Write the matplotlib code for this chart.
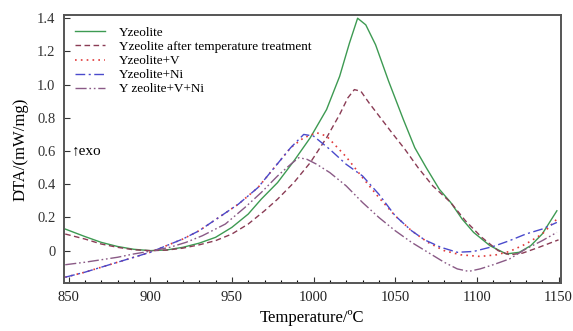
import numpy as np
import matplotlib.pyplot as plt
from matplotlib.ticker import MultipleLocator, FixedLocator

plt.rcParams['font.family'] = ['Liberation Serif', 'DejaVu Serif']

# Yzeolite (solid green)
t_y = [848, 860, 870, 880, 890, 900, 910, 920, 930, 940, 950, 960, 968, 978, 988,
       998, 1008, 1016, 1022, 1027, 1032, 1038, 1046, 1055, 1062, 1069, 1077,
       1084, 1091, 1098, 1108, 1118, 1126, 1133, 1140, 1149]
v_y = [0.13, 0.085, 0.05, 0.025, 0.008, 0.0, 0.004, 0.02, 0.045, 0.08, 0.14, 0.22,
       0.31, 0.41, 0.54, 0.68, 0.85, 1.05, 1.25, 1.40, 1.36, 1.24, 1.02, 0.79,
       0.62, 0.50, 0.37, 0.29, 0.19, 0.11, 0.03, -0.02, -0.01, 0.03, 0.10, 0.24]

# Yzeolite after temperature treatment (dashed maroon)
t_t = [848, 860, 870, 880, 890, 900, 910, 920, 930, 940, 950, 960, 970, 978, 988,
       998, 1008, 1016, 1021, 1025, 1029, 1034, 1041, 1048, 1056, 1064, 1073,
       1084, 1093, 1103, 1113, 1120, 1128, 1138, 1150]
v_t = [0.10, 0.07, 0.04, 0.02, 0.005, 0.0, 0.003, 0.015, 0.035, 0.06, 0.10, 0.16,
       0.24, 0.31, 0.41, 0.53, 0.68, 0.82, 0.92, 0.97, 0.96, 0.89, 0.80, 0.71,
       0.61, 0.50, 0.39, 0.29, 0.18, 0.08, 0.0, -0.025, -0.015, 0.02, 0.065]

# Yzeolite+V (dotted red)
t_v = [848, 860, 870, 880, 890, 900, 910, 920, 930, 942, 954, 966, 976, 986, 994,
       1002, 1008, 1020, 1030, 1040, 1050, 1060, 1070, 1080, 1090, 1102, 1112,
       1120, 1130, 1140, 1150]
v_v = [-0.16, -0.13, -0.10, -0.07, -0.04, -0.01, 0.03, 0.07, 0.12, 0.20, 0.28,
       0.38, 0.50, 0.62, 0.68, 0.71, 0.69, 0.565, 0.44, 0.32, 0.21, 0.12, 0.05,
       0.0, -0.025, -0.035, -0.025, -0.005, 0.04, 0.10, 0.20]

# Yzeolite+Ni (dash-dot blue)
t_n = [848, 860, 870, 880, 890, 900, 910, 920, 930, 942, 954, 966, 976, 986, 994,
       1000, 1010, 1020, 1030, 1040, 1050, 1060, 1068, 1078, 1088, 1098, 1110,
       1120, 1130, 1140, 1149]
v_n = [-0.16, -0.13, -0.10, -0.07, -0.04, -0.01, 0.03, 0.07, 0.12, 0.20, 0.28,
       0.38, 0.50, 0.62, 0.70, 0.69, 0.61, 0.52, 0.45, 0.34, 0.21, 0.12, 0.065,
       0.02, -0.01, -0.005, 0.025, 0.06, 0.10, 0.13, 0.17]

# Y zeolite+V+Ni (dash-dot-dot mauve)
t_vn = [848, 860, 870, 880, 890, 902, 912, 922, 932, 946, 958, 968, 978, 986,
        991, 996, 1002, 1010, 1020, 1030, 1040, 1050, 1060, 1070, 1080, 1088,
        1095, 1102, 1110, 1120, 1130, 1140, 1149]
v_vn = [-0.085, -0.07, -0.055, -0.04, -0.02, 0.0, 0.02, 0.05, 0.09, 0.16, 0.26,
        0.35, 0.45, 0.52, 0.56, 0.55, 0.52, 0.47, 0.39, 0.29, 0.20, 0.12, 0.05,
        -0.01, -0.07, -0.11, -0.125, -0.11, -0.085, -0.05, 0.01, 0.06, 0.11]

fig = plt.figure(figsize=(5.73, 3.31), dpi=100)
ax = fig.add_axes([0.111, 0.145, 0.868, 0.81])

ax.plot(t_y, v_y, color='#3d9a52', lw=1.0, label='Yzeolite')
ax.plot(t_t, v_t, color='#8a3c55', lw=1.0, ls=(0, (4, 2.5)),
        label='Yzeolite after temperature treatment')
ax.plot(t_v, v_v, color='#e03a3a', lw=1.2, ls=(0, (1, 2.5)), label='Yzeolite+V')
ax.plot(t_n, v_n, color='#4a4acc', lw=1.0, ls=(0, (7, 2.5, 1.5, 2.5)),
        label='Yzeolite+Ni')
ax.plot(t_vn, v_vn, color='#8a5a86', lw=1.0,
        ls=(0, (8, 2, 1.2, 2, 1.2, 2)), label='Y zeolite+V+Ni')

ax.set_xlim(847, 1151.5)
ax.set_ylim(-0.195, 1.42)
ax.xaxis.set_major_locator(MultipleLocator(50))
ax.xaxis.set_minor_locator(MultipleLocator(10))
ax.yaxis.set_major_locator(FixedLocator([0, 0.2, 0.4, 0.6, 0.8, 1.0, 1.2, 1.4]))
ax.set_yticklabels(['0', '0.2', '0.4', '0.6', '0.8', '1.0', '1.2', '1.4'])
ax.tick_params(axis='both', direction='in', labelsize=10.5, colors='#333333',
               length=4, width=0.8, pad=6)
ax.tick_params(axis='x', which='minor', direction='in', length=2.5, width=0.8)
ax.tick_params(axis='x', labelcolor='#222222')
for s in ax.spines.values():
    s.set_color('#555555')
    s.set_linewidth(1.4)

ax.set_xlabel('Temperature/ºC', fontsize=12, labelpad=4)
ax.set_ylabel('DTA/(mW/mg)', fontsize=12, labelpad=6)

ax.text(852, 0.6, '↑exo', fontsize=11, va='center', ha='left',
        family=['Liberation Serif', 'DejaVu Sans'])

ax.legend(loc='upper left', bbox_to_anchor=(0.0, 1.0), frameon=False,
          fontsize=9.5, handlelength=2.2, handletextpad=1.1, labelspacing=0.14,
          borderaxespad=0.5)

fig.savefig('out.png', dpi=100)
